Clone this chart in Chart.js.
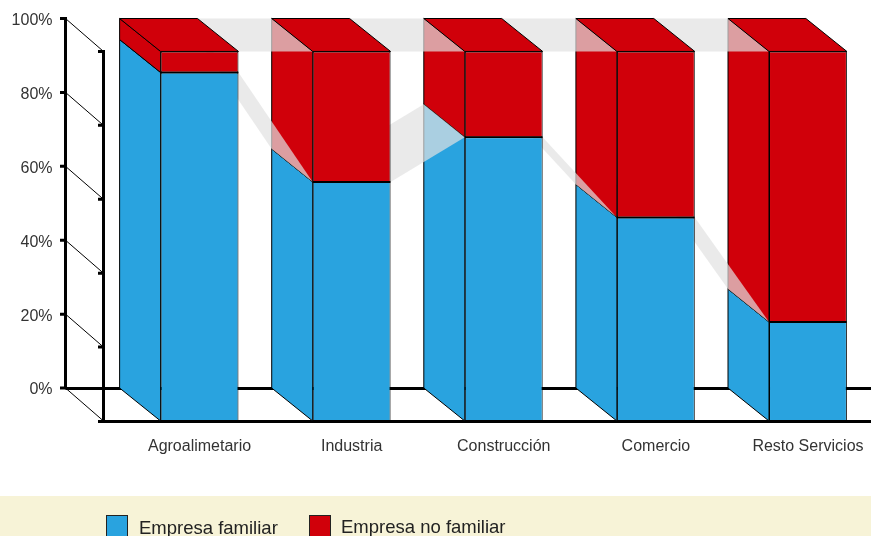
<!DOCTYPE html>
<html>
<head>
<meta charset="utf-8">
<script src="https://cdn.jsdelivr.net/npm/chart.js@4"></script>
<style>
  html, body { margin: 0; padding: 0; background: #fff; overflow: hidden; }
  #wrap { position: relative; width: 871px; height: 536px; overflow: hidden; font-family: "Liberation Sans", sans-serif; color: #222; }
  #band { position: absolute; left: 0; top: 496px; width: 871px; height: 40px; background: #f7f3d7; }
  #chart { position: absolute; left: 0; top: 0; }
  .key { position: absolute; top: 515px; width: 20px; height: 24px; border: 1px solid #222; }
  .label { position: absolute; font-size: 18.5px; line-height: 22px; white-space: nowrap; }
</style>
</head>
<body>
<div id="wrap">
  <div id="band"></div>
  <canvas id="chart" width="884" height="536"></canvas>
  <div id="legend"></div>
</div>
<script>
const categories = ['Agroalimetario', 'Industria', 'Construcción', 'Comercio', 'Resto Servicios'];
const familiar = [94.3, 64.7, 76.8, 55.1, 26.8];
const noFamiliar = [5.7, 35.3, 23.2, 44.9, 73.2];
const tickValues = [0, 20, 40, 60, 80, 100];

const BLUE = '#29a3df';
const RED = '#d0000a';
const DEPTH_X = 41;      // how far the bars run back, sideways
const PX_PER_PCT = 3.7;
const DEPTH_PCT = 33 / PX_PER_PCT;

function poly(ctx, pts, fill, stroke) {
  ctx.beginPath();
  pts.forEach((p, i) => i ? ctx.lineTo(p[0], p[1]) : ctx.moveTo(p[0], p[1]));
  ctx.closePath();
  if (fill) { ctx.fillStyle = fill; ctx.fill(); }
  if (stroke) { ctx.strokeStyle = stroke; ctx.lineWidth = 1; ctx.stroke(); }
}

// axes, back faces and the see-through ribbons, all under the front of the bars
const depthPlugin = {
  id: 'depth',
  beforeDatasetsDraw(chart) {
    const ctx = chart.ctx;
    const back = chart.scales.y;
    const front = chart.scales.yFront;
    const bars = chart.getDatasetMeta(0).data;
    const backX = 65.5;
    const frontX = 103.5;

    ctx.save();
    ctx.lineCap = 'butt';

    // thin diagonals between the two walls
    ctx.strokeStyle = '#000';
    ctx.lineWidth = 1;
    tickValues.forEach(v => {
      ctx.beginPath();
      ctx.moveTo(backX, back.getPixelForValue(v));
      ctx.lineTo(frontX, front.getPixelForValue(v));
      ctx.stroke();
    });

    ctx.lineWidth = 3;
    ctx.beginPath();
    ctx.moveTo(backX, back.getPixelForValue(100) - 1.5);
    ctx.lineTo(backX, back.getPixelForValue(0) + 1.5);
    ctx.moveTo(frontX, front.getPixelForValue(100) - 1.5);
    ctx.lineTo(frontX, front.getPixelForValue(0) + 1.5);
    ctx.moveTo(backX, back.getPixelForValue(0) + 0.5);
    ctx.lineTo(884, back.getPixelForValue(0) + 0.5);
    ctx.moveTo(98, front.getPixelForValue(0) + 0.5);
    ctx.lineTo(884, front.getPixelForValue(0) + 0.5);
    tickValues.forEach(v => {
      ctx.moveTo(60, back.getPixelForValue(v));
      ctx.lineTo(backX, back.getPixelForValue(v));
      if (v > 0) {
        ctx.moveTo(98, front.getPixelForValue(v));
        ctx.lineTo(frontX, front.getPixelForValue(v));
      }
    });
    ctx.stroke();

    // left side face of each bar
    bars.forEach((bar, i) => {
      const x = bar.x - bar.width / 2;
      const top = familiar[i] + noFamiliar[i];
      poly(ctx, [[x, front.getPixelForValue(0)], [x, front.getPixelForValue(familiar[i])],
        [x - DEPTH_X, back.getPixelForValue(familiar[i])], [x - DEPTH_X, back.getPixelForValue(0)]], BLUE, '#000');
      poly(ctx, [[x, front.getPixelForValue(familiar[i])], [x, front.getPixelForValue(top)],
        [x - DEPTH_X, back.getPixelForValue(top)], [x - DEPTH_X, back.getPixelForValue(familiar[i])]], RED, '#000');
    });

    // ribbons that link one bar to the next
    const ribbon = 'rgba(225,225,225,0.7)';
    for (let i = 0; i < bars.length - 1; i++) {
      const xa = bars[i].x + bars[i].width / 2;
      const xb = bars[i + 1].x - bars[i + 1].width / 2;
      [[familiar[i], familiar[i + 1]], [familiar[i] + noFamiliar[i], familiar[i + 1] + noFamiliar[i + 1]]].forEach(pair => {
        poly(ctx, [[xa, front.getPixelForValue(pair[0])], [xb, front.getPixelForValue(pair[1])],
          [xb - DEPTH_X, back.getPixelForValue(pair[1])], [xa - DEPTH_X, back.getPixelForValue(pair[0])]], ribbon);
      });
    }

    // top of each bar
    bars.forEach((bar, i) => {
      const x = bar.x - bar.width / 2;
      const top = familiar[i] + noFamiliar[i];
      poly(ctx, [[x, front.getPixelForValue(top)], [x + bar.width, front.getPixelForValue(top)],
        [x + bar.width - DEPTH_X, back.getPixelForValue(top)], [x - DEPTH_X, back.getPixelForValue(top)]], RED, '#000');
    });
    ctx.restore();
  },
  // the red segment paints over the blue top edge, so put that line back
  afterDatasetsDraw(chart) {
    const ctx = chart.ctx;
    const front = chart.scales.yFront;
    ctx.save();
    ctx.strokeStyle = '#000';
    ctx.lineWidth = 1.5;
    chart.getDatasetMeta(0).data.forEach((bar, i) => {
      const y = front.getPixelForValue(familiar[i]);
      ctx.beginPath();
      ctx.moveTo(bar.x - bar.width / 2, y);
      ctx.lineTo(bar.x + bar.width / 2, y);
      ctx.stroke();
    });
    ctx.restore();
  }
};

const chart = new Chart(document.getElementById('chart'), {
  type: 'bar',
  data: {
    labels: categories,
    datasets: [
      { label: 'Empresa familiar', data: familiar, backgroundColor: BLUE, borderColor: '#000', borderWidth: 1, borderSkipped: false, yAxisID: 'yFront' },
      { label: 'Empresa no familiar', data: noFamiliar, backgroundColor: RED, borderColor: '#000', borderWidth: 1, borderSkipped: false, yAxisID: 'yFront' }
    ]
  },
  options: {
    responsive: false,
    animation: false,
    layout: { padding: { top: 18.5 } },
    datasets: { bar: { categoryPercentage: 1, barPercentage: 0.512 } },
    plugins: { legend: { display: false }, tooltip: { enabled: false } },
    scales: {
      x: {
        stacked: true,
        grid: { display: false },
        border: { display: false },
        afterFit(scale) { scale.height = 115; },
        ticks: { color: '#333', autoSkip: false, maxRotation: 0, padding: 8, font: { family: '"Liberation Sans"', size: 16 } }
      },
      // back wall: this one carries the tick labels
      y: {
        min: -DEPTH_PCT,
        max: 100,
        grid: { display: false },
        border: { display: false },
        afterFit(scale) {
          scale.width = 123.5;
          scale.paddingTop = 0;    // big tick padding would otherwise push the plot down
          scale.paddingBottom = 0;
        },
        afterBuildTicks(scale) { scale.ticks = tickValues.map(v => ({ value: v })); },
        ticks: { color: '#333', padding: 63, labelOffset: 2, callback: v => v + '%', font: { family: '"Liberation Sans"', size: 16 } }
      },
      // front plane: the bars stand on this one
      yFront: {
        stacked: true,
        display: false,
        min: 0,
        max: 100 + DEPTH_PCT
      }
    }
  },
  plugins: [depthPlugin]
});

// legend built from the datasets
const keyX = [106, 309];
const textX = [139, 341];
const textY = [517, 516];
document.getElementById('legend').innerHTML = chart.data.datasets.map((d, i) =>
  `<div class="key" style="left:${keyX[i]}px;background:${d.backgroundColor}"></div>` +
  `<div class="label" style="left:${textX[i]}px;top:${textY[i]}px">${d.label}</div>`).join('');
</script>
</body>
</html>
